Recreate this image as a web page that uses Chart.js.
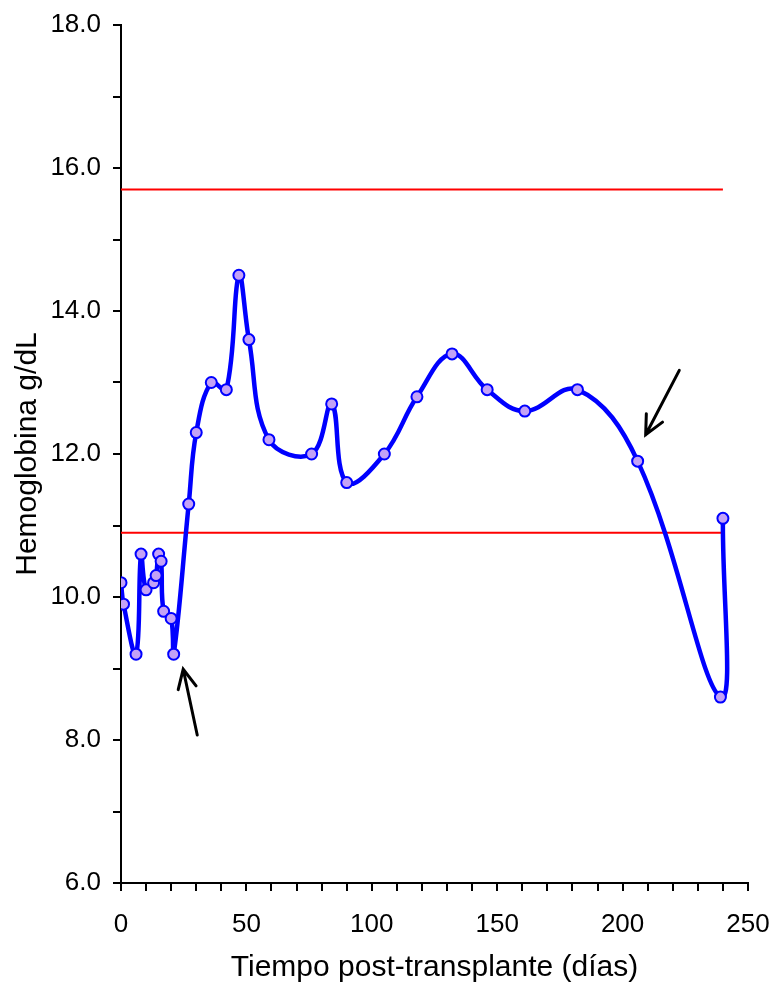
<!DOCTYPE html>
<html>
<head>
<meta charset="utf-8">
<script src="https://cdn.jsdelivr.net/npm/chart.js@4/dist/chart.umd.min.js"></script>
<style>
  html, body { margin: 0; padding: 0; background: #fff; }
  canvas { display: block; }
</style>
</head>
<body>
<canvas id="myChart" width="775" height="987"></canvas>
<script>
// days after transplant and hemoglobin (g/dL)
const days = [0, 1, 6, 8, 10, 13, 14, 15, 16, 17, 20, 21, 27, 30, 36, 42, 47, 51, 59, 76, 84, 90, 105, 118, 132, 146, 161, 182, 206, 239, 240]
const hemoglobin = [10.2, 9.9, 9.2, 10.6, 10.1, 10.2, 10.3, 10.6, 10.5, 9.8, 9.7, 9.2, 11.3, 12.3, 13.0, 12.9, 14.5, 13.6, 12.2, 12.0, 12.7, 11.6, 12.0, 12.8, 13.4, 12.9, 12.6, 12.9, 11.9, 8.6, 11.1]

// reference range lines
const rangeDays = [0, 240]
const upperLimit = 15.7
const lowerLimit = 10.9

// annotation arrows, in data units: [tailDay, tailHb, tipDay, tipHb]
const arrows = [
  [30.4, 8.07, 24.8, 8.99],
  [222.6, 13.17, 209.2, 12.27]
]

const blue = '#0000ff'
const red = '#ff0000'
const pointFill = '#c4a2f6'
const fontFamily = '"Liberation Sans", Arial, sans-serif'

const arrowPlugin = {
  id: 'arrows',
  afterDatasetsDraw(chart) {
    const ctx = chart.ctx
    const xs = chart.scales.x
    const ys = chart.scales.y
    ctx.save()
    ctx.strokeStyle = '#000'
    ctx.lineWidth = 3
    ctx.lineCap = 'round'
    arrows.forEach(a => {
      const x1 = xs.getPixelForValue(a[0]), y1 = ys.getPixelForValue(a[1])
      const x2 = xs.getPixelForValue(a[2]), y2 = ys.getPixelForValue(a[3])
      const ang = Math.atan2(y2 - y1, x2 - x1)
      const head = 21
      ctx.beginPath()
      ctx.moveTo(x1, y1)
      ctx.lineTo(x2, y2)
      ctx.moveTo(x2 - head * Math.cos(ang - 0.45), y2 - head * Math.sin(ang - 0.45))
      ctx.lineTo(x2, y2)
      ctx.lineTo(x2 - head * Math.cos(ang + 0.45), y2 - head * Math.sin(ang + 0.45))
      ctx.stroke()
    })
    ctx.restore()
  }
}

const hbPoints = days.map((d, i) => ({ x: d, y: hemoglobin[i] }))
const upperPoints = rangeDays.map(d => ({ x: d, y: upperLimit }))
const lowerPoints = rangeDays.map(d => ({ x: d, y: lowerLimit }))

const ctx = document.getElementById('myChart')

new Chart(ctx, {
  type: 'line',
  data: {
    datasets: [
      {
        data: hbPoints,
        borderColor: blue,
        borderWidth: 4.5,
        tension: 0.4,
        pointRadius: 5.5,
        pointBorderWidth: 2,
        pointBorderColor: blue,
        pointBackgroundColor: pointFill,
        order: 0
      },
      {
        data: upperPoints,
        borderColor: red,
        borderWidth: 2,
        pointRadius: 0,
        order: 1
      },
      {
        data: lowerPoints,
        borderColor: red,
        borderWidth: 2,
        pointRadius: 0,
        order: 1
      }
    ]
  },
  options: {
    responsive: false,
    animation: false,
    layout: { padding: { top: 25, right: 27, left: 0, bottom: 0 } },
    plugins: {
      legend: { display: false },
      tooltip: { enabled: false }
    },
    scales: {
      x: {
        type: 'linear',
        min: 0,
        max: 250,
        border: { color: '#000', width: 2 },
        grid: { drawOnChartArea: false, color: '#000', lineWidth: 2, tickLength: 8 },
        ticks: {
          stepSize: 10,
          color: '#000',
          padding: 18,
          maxRotation: 0,
          autoSkip: false,
          font: { family: fontFamily, size: 26 },
          callback: v => (v % 50 === 0 ? String(v) : '')
        },
        title: {
          display: true,
          text: 'Tiempo post-transplante (días)',
          color: '#000',
          font: { family: fontFamily, size: 30 },
          padding: { top: 0, bottom: 1 }
        },
        afterFit: s => {
          s.height = 104
          s.paddingLeft = 0
          s.paddingRight = 0
        }
      },
      y: {
        min: 6,
        max: 18,
        border: { color: '#000', width: 2 },
        grid: { drawOnChartArea: false, color: '#000', lineWidth: 2, tickLength: 8 },
        ticks: {
          stepSize: 1,
          color: '#000',
          padding: 12,
          autoSkip: false,
          font: { family: fontFamily, size: 26 },
          callback: v => (v % 2 === 0 ? v.toFixed(1) : '')
        },
        title: {
          display: true,
          text: 'Hemoglobina g/dL',
          color: '#000',
          font: { family: fontFamily, size: 30 },
          padding: { top: 10, bottom: 0 }
        },
        afterFit: s => {
          s.width = 121
          s.paddingTop = 0
          s.paddingBottom = 0
        }
      }
    }
  },
  plugins: [arrowPlugin]
})
</script>
</body>
</html>
